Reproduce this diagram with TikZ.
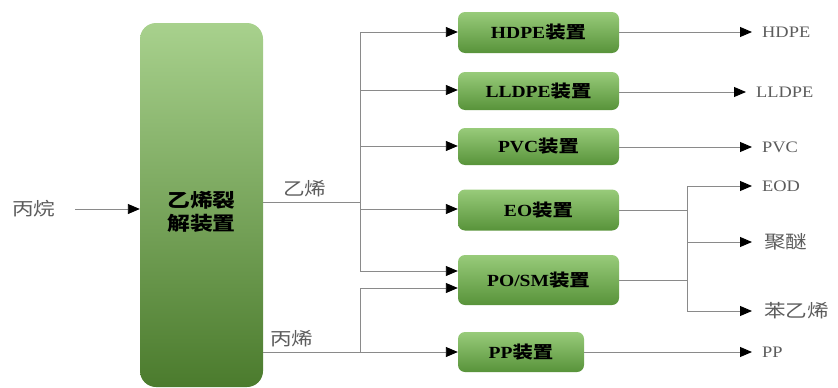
\documentclass[tikz,border=0pt]{standalone}
\usepackage{fontspec}
\setmainfont[FakeStretch=1.15]{Liberation Serif}
\newfontfamily\cjk[FakeStretch=1.2]{Noto Sans CJK SC}
\usetikzlibrary{arrows.meta}
\definecolor{lineg}{HTML}{8A8A8A}
\definecolor{labg}{HTML}{5C5C5C}
\definecolor{gtop}{HTML}{A8D18D}
\definecolor{gbot}{HTML}{4B7B2D}
\definecolor{stop}{HTML}{98CB7A}
\definecolor{sbot}{HTML}{58933A}
\newcommand\mixtxt[2]{{\bfseries #1{\cjk\bfseries #2}}}
\begin{document}
\begin{tikzpicture}[x=1pt,y=-1pt,
  bigbox/.style={draw=none,rounded corners=16pt,top color=gtop,bottom color=gbot,
     minimum width=123pt,minimum height=364pt,inner sep=0pt},
  bigtxt/.style={inner sep=0pt,align=center,
     font=\cjk\bfseries\fontsize{19}{22}\selectfont},
  unit/.style={draw=none,rounded corners=7pt,top color=stop,bottom color=sbot,
     minimum width=161pt,inner sep=0pt,font=\fontsize{17}{20}\selectfont},
  lab/.style={text=labg,inner sep=0pt,anchor=west,font=\fontsize{16}{19}\selectfont},
  clab/.style={text=labg,inner sep=0pt,font=\cjk\fontsize{18}{21}\selectfont},
  conn/.style={draw=lineg,line width=0.9pt},
  arr/.style={conn,-{Triangle[length=12pt,width=10pt,color=black]}}]
\useasboundingbox (0,0) rectangle (838,388);

% main cracker
\node[bigbox] (crack) at (201.5,205) {};
\node[bigtxt] (cracktxt) at (201.5,212) {乙烯裂\\[1pt]解装置};

% units
\node[unit,minimum height=41pt] (hdpe) at (538.5,32.5) {\mixtxt{HDPE}{装置}};
\node[unit,minimum height=38pt] (lldpe) at (538.5,91) {\mixtxt{LLDPE}{装置}};
\node[unit,minimum height=37pt] (pvc) at (538.5,146.5) {\mixtxt{PVC}{装置}};
\node[unit,minimum height=41pt] (eo) at (538.5,210) {\mixtxt{EO}{装置}};
\node[unit,minimum height=50pt] (posm) at (538.5,280) {\mixtxt{PO/SM}{装置}};
\node[unit,minimum height=40pt,minimum width=126pt] (pp) at (521,352) {\mixtxt{PP}{装置}};

% input
\node[clab,anchor=west] (propane) at (12,209) {丙烷};
\coordinate (pin) at (75,209);
\draw[arr] (pin) -- (crack.west |- pin);

% ethylene branch
\node[clab,anchor=west] (ethl) at (283,189) {乙烯};
\coordinate (ej) at (360,202);
\coordinate (etop) at (360,32);
\coordinate (ebot) at (360,271);
\draw[conn] (crack.east |- ej) -- (ej);
\draw[conn] (etop) -- (ebot);
\draw[arr] (etop) -- (hdpe.west |- etop);
\coordinate (e2) at (360,90);
\draw[arr] (e2) -- (lldpe.west |- e2);
\coordinate (e3) at (360,146);
\draw[arr] (e3) -- (pvc.west |- e3);
\coordinate (e4) at (360,209);
\draw[arr] (e4) -- (eo.west |- e4);
\draw[arr] (ebot) -- (posm.west |- ebot);

% propylene branch
\node[clab,anchor=west] (prol) at (270,339) {丙烯};
\coordinate (pj) at (360,352);
\coordinate (ptop) at (360,288);
\draw[conn] (crack.east |- pj) -- (pj);
\draw[conn] (ptop) -- (pj);
\draw[arr] (ptop) -- (posm.west |- ptop);
\draw[arr] (pj) -- (pp.west |- pj);

% outputs
\node[lab] (ohdpe) at (762,32) {HDPE};
\node[lab] (olldpe) at (756,92) {LLDPE};
\node[lab] (opvc) at (762,147) {PVC};
\node[lab] (oeod) at (762,186) {EOD};
\node[clab,anchor=west] (opet) at (764,242) {聚醚};
\node[clab,anchor=west] (osty) at (764,311) {苯乙烯};
\node[lab] (opp) at (762,352) {PP};

\draw[arr] (hdpe.east |- ohdpe) -- ([xshift=-10pt]ohdpe.west);
\draw[arr] (lldpe.east |- olldpe) -- ([xshift=-10pt]olldpe.west);
\draw[arr] (pvc.east |- opvc) -- ([xshift=-10pt]opvc.west);
\draw[arr] (pp.east |- opp) -- ([xshift=-10pt]opp.west);

\coordinate (jt) at (687,186);
\coordinate (jb) at (687,311);
\draw[conn] (jt) -- (jb);
\draw[conn] (eo.east) -- (eo.east -| jt);
\draw[conn] (posm.east) -- (posm.east -| jt);
\draw[arr] (jt) -- ([xshift=-10pt]oeod.west);
\draw[arr] (jt |- opet) -- ([xshift=-12pt]opet.west);
\draw[arr] (jb) -- ([xshift=-12pt]osty.west);
\end{tikzpicture}
\end{document}
